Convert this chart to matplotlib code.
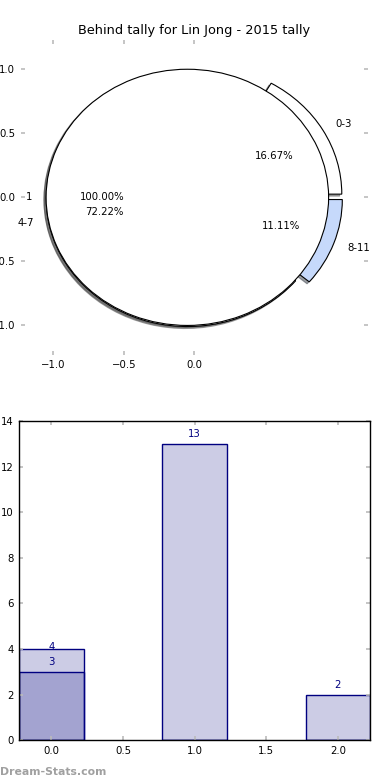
import matplotlib
matplotlib.use('Agg')
import matplotlib.pyplot as plt

# data
title = 'Behind tally for Lin Jong - 2015 tally'
ring_labels = ['0-3', '4-7', '8-11']
ring_values = [3, 13, 2]
ring_colors = ['white', 'white', '#c6d9fb']
inner_labels = ['1']
inner_values = [1]

bar_x = [0, 1, 2]
bar_total = [4, 13, 2]
bar_first = [3, 0, 0]

fig = plt.figure(figsize=(3.9, 7.8), dpi=100)
fs = 7.3

# pie
ax1 = fig.add_axes([0.053, 0.545, 0.891, 0.404])
wp = dict(edgecolor='black', linewidth=0.8)
sh = dict(ox=-0.011, oy=-0.011)
ax1.pie(ring_values, labels=ring_labels, colors=ring_colors, explode=[0.05] * len(ring_values),
        autopct='%1.2f%%', shadow=sh, frame=True, wedgeprops=wp, textprops=dict(fontsize=fs))
ax1.pie(inner_values, labels=inner_labels, colors=['white'], explode=[0.05],
        autopct='%1.2f%%', shadow=sh, frame=True, wedgeprops=wp, textprops=dict(fontsize=fs))
ax1.set_aspect('auto')
ax1.set_xlim(-1.23, 1.23)
ax1.set_ylim(-1.23, 1.23)
ax1.set_xticks([-1.0, -0.5, 0.0])
ax1.set_yticks([-1.0, -0.5, 0.0, 0.5, 1.0])
ax1.set_xticklabels(['\u22121.0', '\u22120.5', '0.0'])
ax1.set_yticklabels(['\u22121.0', '\u22120.5', '0.0', '0.5', '1.0'])
for s in ax1.spines.values():
    s.set_visible(False)
ax1.set_title(title, fontsize=9.3, pad=4)

# bars
ax2 = fig.add_axes([0.049, 0.051, 0.9, 0.409])
ax2.bar(bar_x, bar_total, width=0.45, color='navy', alpha=0.2)
ax2.bar(bar_x, bar_total, width=0.45, fill=False, edgecolor='navy', linewidth=1)
ax2.bar(bar_x, bar_first, width=0.45, color='navy', alpha=0.2)
ax2.bar(bar_x, bar_first, width=0.45, fill=False, edgecolor='navy', linewidth=1)
for x, h, f in zip(bar_x, bar_total, bar_first):
    # label of the taller bar sits on its edge when a second bar is inside
    y = h - 0.15 if f > 0 else h + 0.2
    ax2.text(x, y, str(h), ha='center', va='bottom', color='navy', fontsize=fs)
    if f > 0:
        ax2.text(x, f + 0.2, str(f), ha='center', va='bottom', color='navy', fontsize=fs)
ax2.set_xlim(-0.225, 2.225)
ax2.set_ylim(0, 14)
ax2.set_xticks([0.0, 0.5, 1.0, 1.5, 2.0])
ax2.set_yticks(range(0, 15, 2))
for s in ax2.spines.values():
    s.set_linewidth(1.0)

for ax in (ax1, ax2):
    ax.tick_params(direction='in', length=3, width=1.2, color='#bbbbbb', labelsize=fs,
                   top=True, right=True, pad=4)

fig.text(0.0, 0.006, 'Dream-Stats.com', fontsize=7.8, color='#a0a0a0', fontweight='bold')

fig.savefig('out.png', dpi=100)
